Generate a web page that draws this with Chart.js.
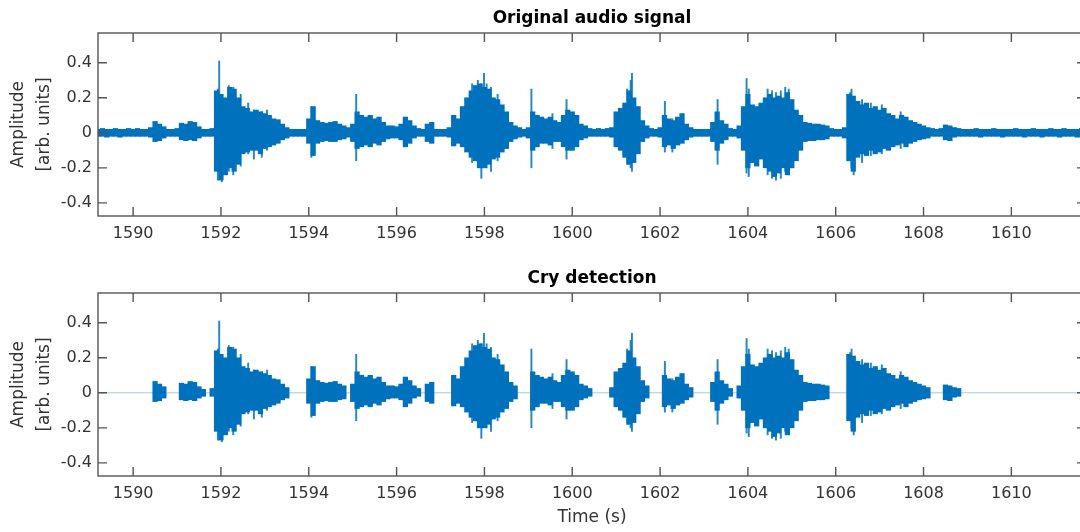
<!DOCTYPE html>
<html>
<head>
<meta charset="utf-8">
<script src="https://cdn.jsdelivr.net/npm/chart.js@4.4.1/dist/chart.umd.min.js"></script>
<style>
  html, body { margin: 0; padding: 0; background: #fff; }
  #page { position: relative; width: 1080px; height: 532px; overflow: hidden; }
  .panel { position: absolute; left: 0; width: 1086px; }
</style>
</head>
<body>
<div id="page">
  <div class="panel" style="top:0;height:260px"><canvas id="origChart"></canvas></div>
  <div class="panel" style="top:260px;height:272px"><canvas id="cryChart"></canvas></div>
</div>
<script>
// time axis (s)
const timeStart = 1589.2
const timeStep = 0.1
const timeRange = [1589.2, 1611.7]
const timeTicks = [1590, 1592, 1594, 1596, 1598, 1600, 1602, 1604, 1606, 1608, 1610]

// amplitude axis
const ampRange = [-0.475, 0.57]
const ampTicks = [-0.4, -0.2, 0, 0.2, 0.4]

// signal envelope per 0.1 s (1589.2 ... 1611.7)
const upper = [
  0.02, 0.025, 0.02, 0.02, 0.025, 0.02, 0.02, 0.025,
  0.02, 0.025, 0.02, 0.02, 0.03, 0.065, 0.05, 0.035, 0.02, 0.02,
  0.025, 0.055, 0.05, 0.065, 0.06, 0.035, 0.02, 0.02, 0.025, 0.24,
  0.22, 0.2, 0.26, 0.25, 0.2, 0.15, 0.14, 0.12, 0.13, 0.12,
  0.11, 0.1, 0.08, 0.075, 0.05, 0.03, 0.02, 0.02, 0.02, 0.02,
  0.08, 0.15, 0.07, 0.06, 0.055, 0.06, 0.065, 0.05, 0.04, 0.03,
  0.05, 0.12, 0.1, 0.09, 0.1, 0.08, 0.09, 0.06, 0.04, 0.04,
  0.035, 0.05, 0.09, 0.07, 0.04, 0.025, 0.02, 0.05, 0.06, 0.02,
  0.02, 0.02, 0.03, 0.1, 0.08, 0.15, 0.2, 0.24, 0.27, 0.28,
  0.26, 0.25, 0.2, 0.19, 0.16, 0.12, 0.06, 0.04, 0.03, 0.02,
  0.03, 0.12, 0.1, 0.09, 0.08, 0.09, 0.07, 0.06, 0.1, 0.13,
  0.12, 0.1, 0.05, 0.04, 0.025, 0.02, 0.025, 0.02, 0.025, 0.03,
  0.12, 0.14, 0.17, 0.24, 0.2, 0.15, 0.07, 0.04, 0.025, 0.02,
  0.03, 0.1, 0.08, 0.07, 0.09, 0.11, 0.05, 0.03, 0.02, 0.02,
  0.02, 0.02, 0.06, 0.12, 0.07, 0.05, 0.025, 0.02, 0.04, 0.15,
  0.22, 0.16, 0.15, 0.17, 0.2, 0.22, 0.2, 0.21, 0.2, 0.23,
  0.19, 0.13, 0.1, 0.06, 0.055, 0.05, 0.05, 0.045, 0.04, 0.025,
  0.02, 0.02, 0.03, 0.22, 0.21, 0.18, 0.16, 0.17, 0.14, 0.15,
  0.13, 0.14, 0.11, 0.1, 0.08, 0.1, 0.09, 0.07, 0.06, 0.05,
  0.04, 0.03, 0.025, 0.02, 0.025, 0.045, 0.04, 0.03, 0.025, 0.02,
  0.02, 0.02, 0.025, 0.02, 0.02, 0.02, 0.025, 0.02, 0.02, 0.02,
  0.02, 0.025, 0.02, 0.02, 0.02, 0.025, 0.02, 0.02, 0.02, 0.025,
  0.02, 0.02, 0.025, 0.02, 0.02, 0.02, 0.025, 0.02,
]
const lower = [
  -0.02, -0.02, -0.025, -0.02, -0.02, -0.025, -0.02, -0.02,
  -0.02, -0.02, -0.02, -0.02, -0.025, -0.05, -0.045, -0.03, -0.02, -0.02,
  -0.02, -0.04, -0.045, -0.04, -0.045, -0.03, -0.02, -0.02, -0.02, -0.22,
  -0.27, -0.24, -0.2, -0.22, -0.18, -0.12, -0.11, -0.1, -0.1, -0.12,
  -0.09, -0.08, -0.07, -0.06, -0.04, -0.03, -0.02, -0.02, -0.02, -0.02,
  -0.06, -0.13, -0.06, -0.05, -0.045, -0.05, -0.05, -0.04, -0.035, -0.025,
  -0.05, -0.09, -0.08, -0.07, -0.08, -0.06, -0.07, -0.05, -0.035, -0.03,
  -0.03, -0.04, -0.08, -0.06, -0.03, -0.02, -0.02, -0.05, -0.06, -0.02,
  -0.02, -0.02, -0.025, -0.075, -0.06, -0.08, -0.11, -0.14, -0.16, -0.2,
  -0.2, -0.18, -0.15, -0.14, -0.11, -0.09, -0.05, -0.035, -0.025, -0.02,
  -0.03, -0.1, -0.08, -0.06, -0.06, -0.07, -0.05, -0.05, -0.08, -0.1,
  -0.1, -0.08, -0.04, -0.03, -0.02, -0.02, -0.02, -0.02, -0.02, -0.025,
  -0.08, -0.1, -0.14, -0.18, -0.17, -0.12, -0.05, -0.03, -0.02, -0.02,
  -0.025, -0.08, -0.07, -0.09, -0.07, -0.06, -0.04, -0.025, -0.02, -0.02,
  -0.02, -0.02, -0.05, -0.1, -0.06, -0.04, -0.02, -0.02, -0.03, -0.1,
  -0.2, -0.17, -0.19, -0.15, -0.2, -0.22, -0.25, -0.23, -0.2, -0.24,
  -0.2, -0.16, -0.1, -0.05, -0.045, -0.045, -0.04, -0.04, -0.035, -0.02,
  -0.02, -0.02, -0.03, -0.16, -0.22, -0.14, -0.12, -0.13, -0.1, -0.12,
  -0.11, -0.09, -0.1, -0.08, -0.07, -0.06, -0.08, -0.06, -0.05, -0.04,
  -0.035, -0.03, -0.02, -0.02, -0.02, -0.04, -0.045, -0.025, -0.02, -0.02,
  -0.02, -0.02, -0.02, -0.025, -0.02, -0.02, -0.02, -0.02, -0.025, -0.02,
  -0.02, -0.02, -0.02, -0.025, -0.02, -0.02, -0.02, -0.025, -0.02, -0.02,
  -0.02, -0.025, -0.02, -0.02, -0.02, -0.025, -0.02, -0.02,
]

// narrow peaks sticking out of the envelope
const spikeTimes = [
  1591.93, 1591.96, 1592.02, 1592.18, 1592.28, 1592.32, 1592.45, 1592.62, 1592.75, 1592.93, 1593.05,
  1594.06, 1595.08, 1597.72, 1597.85, 1597.93, 1597.99, 1598.05, 1598.15, 1598.3,
  1599.07, 1599.55, 1599.87, 1601.25, 1601.33, 1601.36, 1602.11, 1602.28, 1603.31,
  1603.97, 1604.02, 1604.45, 1604.55, 1604.64, 1604.75, 1604.85, 1604.93,
  1606.33, 1606.36, 1606.41, 1606.6, 1606.8, 1607.05, 1607.48,
]
const spikeUpper = [
  0.25, 0.41, 0.2, 0.27, 0.26, 0.24, 0.22, 0.17, 0.13, 0.12, 0.13,
  0.15, 0.22, 0.28, 0.3, 0.28, 0.34, 0.28, 0.26, 0.22,
  0.25, 0.11, 0.19, 0.25, 0.3, 0.34, 0.18, 0.08, 0.19,
  0.31, 0.25, 0.25, 0.24, 0.23, 0.24, 0.26, 0.25,
  0.23, 0.25, 0.2, 0.19, 0.17, 0.16, 0.12,
]
const spikeLower = [
  -0.27, -0.2, -0.28, -0.22, -0.24, -0.15, -0.19, -0.12, -0.15, -0.14, -0.1,
  -0.14, -0.16, -0.17, -0.2, -0.26, -0.18, -0.2, -0.22, -0.16,
  -0.2, -0.09, -0.15, -0.18, -0.2, -0.22, -0.11, -0.11, -0.18,
  -0.23, -0.25, -0.24, -0.26, -0.27, -0.26, -0.22, -0.24,
  -0.15, -0.2, -0.24, -0.17, -0.13, -0.12, -0.09,
]

// detected cry segments (s)
const cryStart = [1590.49, 1591.06, 1591.81, 1594.02, 1595.0, 1596.69, 1597.27, 1599.07, 1600.93, 1602.07, 1603.2, 1603.78, 1606.24, 1608.5]
const cryEnd = [1590.76, 1591.58, 1593.52, 1594.86, 1596.48, 1596.85, 1598.73, 1600.4, 1601.71, 1602.68, 1603.57, 1605.83, 1608.13, 1608.82]

const times = upper.map((_, i) => Math.round((timeStart + i * timeStep) * 100) / 100)

function inCry(t) {
  return cryStart.some((s, k) => t >= s - 0.03 && t <= cryEnd[k] + 0.03)
}

const envAll = times.map((t, i) => ({ x: t, y: [lower[i], upper[i]] }))
const spkAll = spikeTimes.map((t, i) => ({ x: t, y: [spikeLower[i], spikeUpper[i]] }))
const envCry = envAll.filter((p) => inCry(p.x))
const spkCry = spkAll.filter((p) => inCry(p.x))

Chart.defaults.font.family = "'DejaVu Sans', sans-serif"
Chart.defaults.color = '#262626'

const blue = '#0072BD'
const axisGrey = '#555555'

// matlab style box with inward ticks on all four sides
const boxPlugin = {
  id: 'boxPlugin',
  afterDatasetsDraw(chart) {
    const { ctx, chartArea: a, scales } = chart
    const tl = 9
    ctx.save()
    ctx.strokeStyle = axisGrey
    ctx.lineWidth = 1.4
    ctx.beginPath()
    scales.x.ticks.forEach((t) => {
      const px = scales.x.getPixelForValue(t.value)
      ctx.moveTo(px, a.bottom)
      ctx.lineTo(px, a.bottom - tl)
      ctx.moveTo(px, a.top)
      ctx.lineTo(px, a.top + tl)
    })
    scales.y.ticks.forEach((t) => {
      const py = scales.y.getPixelForValue(t.value)
      ctx.moveTo(a.left, py)
      ctx.lineTo(a.left + tl, py)
      ctx.moveTo(a.right, py)
      ctx.lineTo(a.right - tl, py)
    })
    ctx.stroke()
    ctx.strokeRect(a.left, a.top, a.right - a.left, a.bottom - a.top)
    ctx.restore()
  },
}

function makePanel(canvasId, titleText, env, spk, zeroLine, xTitle, xAxisHeight) {
  const datasets = []
  if (zeroLine) {
    datasets.push({
      type: 'line',
      data: [{ x: timeRange[0], y: 0 }, { x: timeRange[1], y: 0 }],
      borderColor: '#9fc8e8',
      borderWidth: 1,
      pointRadius: 0,
      order: 3,
    })
  }
  datasets.push({
    type: 'bar',
    data: env,
    backgroundColor: blue,
    borderWidth: 0,
    barThickness: 4.6,
    grouped: false,
    order: 2,
  })
  datasets.push({
    type: 'bar',
    data: spk,
    backgroundColor: 'rgba(0,114,189,0.85)',
    borderWidth: 0,
    barThickness: 1.3,
    grouped: false,
    order: 1,
  })

  return new Chart(document.getElementById(canvasId), {
    type: 'bar',
    data: { datasets },
    options: {
      responsive: true,
      maintainAspectRatio: false,
      animation: false,
      events: [],
      layout: { padding: 0 },
      plugins: {
        legend: { display: false },
        tooltip: { enabled: false },
        title: {
          display: true,
          text: titleText,
          fullSize: false,
          color: '#000',
          font: { size: 17, weight: 'bold', lineHeight: 1.2 },
          padding: { top: 8, bottom: 4.6 },
        },
      },
      scales: {
        x: {
          type: 'linear',
          min: timeRange[0],
          max: timeRange[1],
          offset: false,
          grid: { display: false, drawTicks: false },
          border: { display: false },
          afterBuildTicks: (scale) => {
            scale.ticks = timeTicks.map((v) => ({ value: v }))
          },
          afterFit: (scale) => {
            scale.height = xAxisHeight
          },
          ticks: {
            autoSkip: false,
            maxRotation: 0,
            padding: 8,
            color: '#333',
            font: { size: 16 },
            callback: (v) => String(v),
          },
          title: {
            display: !!xTitle,
            text: xTitle || '',
            color: '#333',
            font: { size: 17, lineHeight: 1.2 },
            padding: { top: 0, bottom: 4 },
          },
        },
        y: {
          min: ampRange[0],
          max: ampRange[1],
          grid: { display: false, drawTicks: false },
          border: { display: false },
          afterBuildTicks: (scale) => {
            scale.ticks = ampTicks.map((v) => ({ value: v }))
          },
          afterFit: (scale) => {
            scale.width = 98
          },
          ticks: {
            padding: 6,
            color: '#333',
            font: { size: 16 },
            callback: (v) => String(v),
          },
          title: {
            display: true,
            text: ['Amplitude', '[arb. units]'],
            color: '#333',
            font: { size: 17, lineHeight: 1.5 },
            padding: { top: 6, bottom: 0 },
          },
        },
      },
    },
    plugins: [boxPlugin],
  })
}

makePanel('origChart', 'Original audio signal', envAll, spkAll, false, null, 44)
makePanel('cryChart', 'Cry detection', envCry, spkCry, true, 'Time (s)', 56)
</script>
</body>
</html>
